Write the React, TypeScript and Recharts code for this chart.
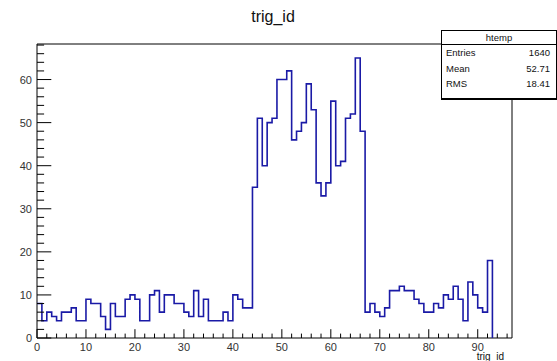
import { ComposedChart, Line, XAxis, YAxis, ReferenceArea } from 'recharts'

// trig_id histogram, bins of width 1 starting at 0 (bins past 92 are empty)
const counts = [
  8, 4, 6, 5, 4, 6, 6, 7, 4, 4,
  9, 8, 8, 5, 2, 8, 5, 5, 9, 10,
  9, 4, 4, 10, 11, 6, 10, 10, 8, 8,
  6, 5, 11, 5, 9, 4, 4, 4, 6, 4,
  10, 9, 7, 7, 35, 51, 40, 50, 51, 60,
  60, 62, 46, 48, 50, 59, 53, 36, 33, 36,
  55, 40, 41, 51, 52, 65, 48, 6, 8, 6,
  5, 7, 11, 11, 12, 11, 11, 9, 8, 6,
  6, 8, 7, 10, 9, 12, 9, 4, 13, 10,
  7, 6, 18,
]
const xMin = 0
const xMax = 97
const yMax = 68.25

const xMajor = [0, 10, 20, 30, 40, 50, 60, 70, 80, 90]
const yMajor = [0, 10, 20, 30, 40, 50, 60]
const xTicks = Array.from({ length: 49 }, (_, i) => i * 2)
const yTicks = Array.from({ length: 35 }, (_, i) => i * 2)

const statNames = ['Entries', 'Mean', 'RMS']
const statValues = ['1640', '52.71', '18.41']

// closing point drops the outline back to zero after the last filled bin
const data = [...counts.map((n, i) => ({ x: xMin + i, n })), { x: xMin + counts.length, n: 0 }]

const font = '"Liberation Sans", Arial, Helvetica, sans-serif'

const XTick = ({ x, y, payload }: any) => {
  const major = xMajor.includes(payload.value)
  return (
    <g>
      <line x1={x} y1={y} x2={x} y2={y - (major ? 8.8 : 4.4)} stroke="#000" />
      {major && (
        <text x={x} y={y + 12.5} textAnchor="middle" fontSize={11} fontFamily={font} fill="#333">
          {payload.value}
        </text>
      )}
    </g>
  )
}

const YTick = ({ x, y, payload }: any) => {
  const major = yMajor.includes(payload.value)
  return (
    <g>
      <line x1={x} y1={y} x2={x + (major ? 14.3 : 7.1)} y2={y} stroke="#000" />
      {major && (
        <text x={x - 5} y={y + 4} textAnchor="end" fontSize={11} fontFamily={font} fill="#333">
          {payload.value}
        </text>
      )}
    </g>
  )
}

export default function App() {
  return (
    <div style={{ position: 'relative', width: 557, height: 361, background: '#fff', overflow: 'hidden' }}>
      <style>{'body{margin:0}'}</style>
      <ComposedChart width={557} height={361} data={data} margin={{ top: 44, right: 45, left: 0, bottom: 0 }}>
        <XAxis
          dataKey="x"
          type="number"
          domain={[xMin, xMax]}
          ticks={xTicks}
          interval={0}
          height={23}
          tickSize={0}
          tickMargin={0}
          axisLine={false}
          tick={(p: any) => <XTick {...p} />}
        />
        <YAxis
          type="number"
          domain={[0, yMax]}
          ticks={yTicks}
          interval={0}
          width={37}
          tickSize={0}
          tickMargin={0}
          axisLine={false}
          tick={(p: any) => <YTick {...p} />}
        />
        <ReferenceArea x1={xMin} x2={xMax} y1={0} y2={yMax} fill="none" stroke="#000" strokeWidth={1} />
        <Line
          dataKey="n"
          type="stepAfter"
          stroke="#1a1aa6"
          strokeWidth={1.6}
          dot={false}
          isAnimationActive={false}
        />
      </ComposedChart>

      <div
        style={{
          position: 'absolute', left: 0, top: 9, width: 546, textAlign: 'center',
          fontFamily: font, fontSize: 16, lineHeight: '16px', color: '#111',
        }}
      >
        trig_id
      </div>
      <div
        style={{
          position: 'absolute', right: 53, top: 352, fontFamily: font, fontSize: 10,
          lineHeight: '10px', color: '#111',
        }}
      >
        trig_id
      </div>

      <div
        style={{
          position: 'absolute', left: 441, top: 30, width: 114, height: 67, background: '#fff',
          border: '1px solid #000', borderBottomWidth: 2, fontFamily: font, fontSize: 9.5, color: '#111',
        }}
      >
        <div style={{ height: 13, borderBottom: '1px solid #000', textAlign: 'center', lineHeight: '14px' }}>
          htemp
        </div>
        {statNames.map((name, i) => (
          <div key={name} style={{ display: 'flex', justifyContent: 'space-between', padding: '0 6px 0 4px', height: 15.5, lineHeight: '15px' }}>
            <span>{name}</span>
            <span>{statValues[i]}</span>
          </div>
        ))}
      </div>
    </div>
  )
}
